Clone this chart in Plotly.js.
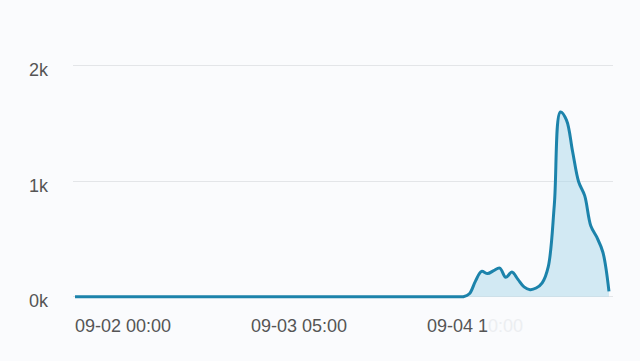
<!DOCTYPE html>
<html>
<head>
<meta charset="utf-8">
<script src="https://cdn.plot.ly/plotly-3.0.1.min.js"></script>
<style>html,body{margin:0;padding:0;background:#fafbfd;}#chart{width:640px;height:361px;}</style>
</head>
<body>
<div id="chart"></div>
<script>
// Time stamps (hourly readings; the long flat zero stretch is given by a few points)
var times = [
  "2024-09-02 00:00", "2024-09-03 00:00", "2024-09-04 00:00", "2024-09-04 12:00",
  "2024-09-04 13:00", "2024-09-04 14:00", "2024-09-04 15:00",
  "2024-09-04 16:00", "2024-09-04 17:00", "2024-09-04 18:00", "2024-09-04 19:00",
  "2024-09-04 20:00", "2024-09-04 21:00", "2024-09-04 22:00", "2024-09-04 23:00",
  "2024-09-05 00:00", "2024-09-05 01:00", "2024-09-05 02:00", "2024-09-05 03:00",
  "2024-09-05 04:00", "2024-09-05 05:00", "2024-09-05 06:00", "2024-09-05 07:00",
  "2024-09-05 08:00", "2024-09-05 09:00", "2024-09-05 10:00", "2024-09-05 11:00",
  "2024-09-05 12:00", "2024-09-05 13:00", "2024-09-05 14:00", "2024-09-05 15:00",
  "2024-09-05 16:00"
];
var values = [
  0, 0, 0, 0,
  0, 0, 0,
  0, 25, 135, 219,
  200, 226, 248, 168,
  213, 150, 85, 61,
  75, 120, 260, 800,
  1600, 1530, 1260, 995,
  875, 615, 515, 385,
  46
];
var tickVals = ["2024-09-02 00:00", "2024-09-03 05:00", "2024-09-04 10:00"];
// the tail of the last label is blurred out in the source image
var tickText = ["09-02 00:00", "09-03 05:00", "09-04 1<span style='color:#eceef1'>0:00</span>"];
var yTickVals = [0, 1000, 2000];
var yTickText = ["0k", "1k", "2k"];

var trace = {
  x: times, y: values, type: "scatter", mode: "lines",
  line: {color: "#1c83ab", width: 3, shape: "spline", smoothing: 1},
  fill: "tozeroy", fillcolor: "rgba(170,216,234,0.5)",
  hoverinfo: "skip"
};
var layout = {
  width: 640, height: 361,
  margin: {l: 73, r: 27, t: 45, b: 62},
  paper_bgcolor: "#fafbfd", plot_bgcolor: "#fafbfd",
  showlegend: false,
  font: {family: "Liberation Sans, Arial, sans-serif", color: "#555555", size: 14},
  xaxis: {
    type: "date", range: ["2024-09-01 23:40", "2024-09-05 16:40"],
    tickvals: tickVals, ticktext: tickText,
    showgrid: false, zeroline: false, showline: false, ticks: "",
    ticklabelposition: "outside right",
    ticklabelstandoff: 14,
    tickfont: {size: 18, color: "#555555"}
  },
  yaxis: {
    range: [-20, 2180], tickvals: yTickVals, ticktext: yTickText,
    showgrid: true, gridcolor: "#e3e5e8", gridwidth: 1,
    zeroline: false, showline: false, ticks: "",
    ticklabelstandoff: 24, ticklabelshift: 4,
    tickfont: {size: 18, color: "#555555"}
  }
};
Plotly.newPlot("chart", [trace], layout, {displayModeBar: false, staticPlot: true});
</script>
</body>
</html>
